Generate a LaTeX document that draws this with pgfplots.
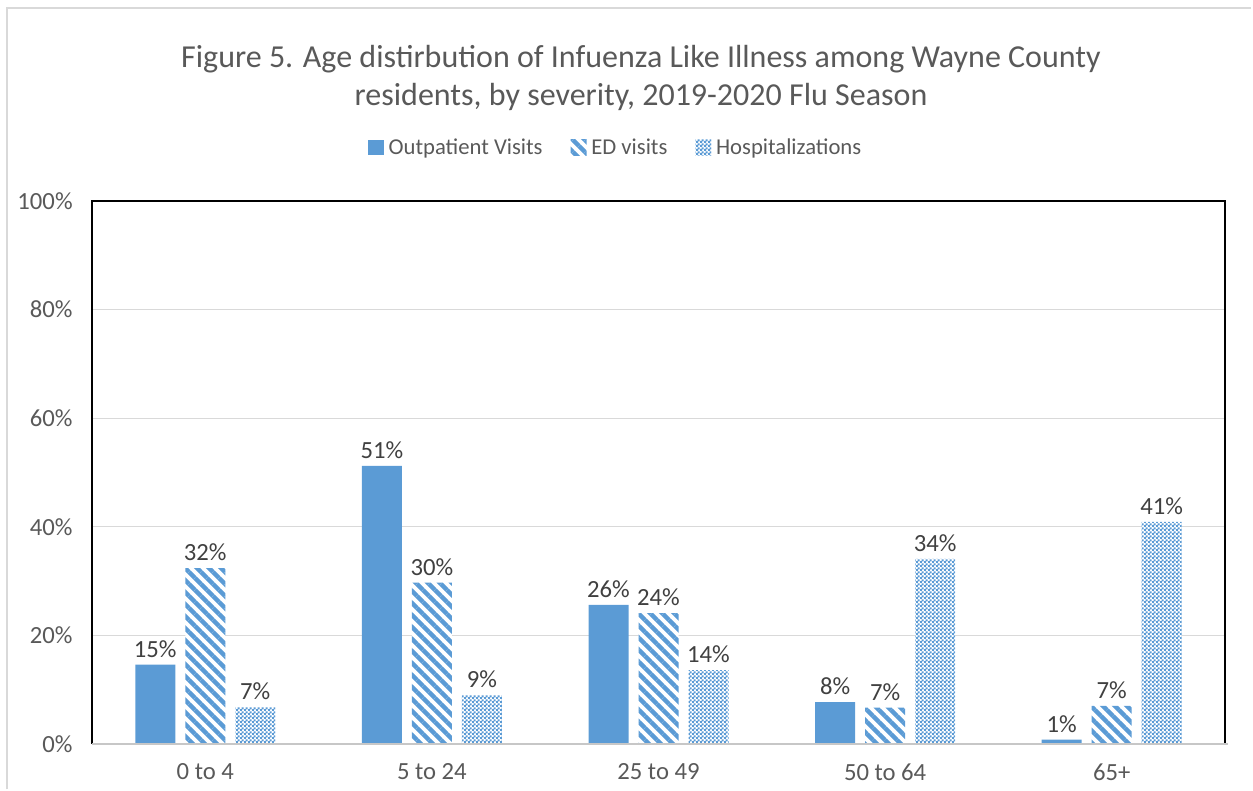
\documentclass[border=0pt]{standalone}
\usepackage{pgfplots}
\pgfplotsset{compat=1.18}
\usepackage{fontspec}
\setmainfont{Carlito}
\usetikzlibrary{patterns.meta}
\definecolor{barblue}{HTML}{5B9BD5}
\definecolor{txtgray}{HTML}{595959}
\definecolor{lblgray}{HTML}{404040}
\definecolor{gridgray}{HTML}{D9D9D9}
\tikzdeclarepattern{
  name=mychecker,
  type=uncolored,
  bounding box={(0pt,0pt) and (3pt,3pt)},
  tile size={(3pt,3pt)},
  code={
    \fill (0pt,0pt) rectangle (1.8pt,1.8pt);
    \fill (1.5pt,1.5pt) rectangle (3.3pt,3.3pt);
  }
}
\begin{document}
\begin{tikzpicture}
\useasboundingbox (-69pt,-35.25pt) rectangle (870.75pt,558pt);
\draw[gridgray, line width=1.2pt] (-63.75pt,-34pt) -- (-63.75pt,552pt) -- (869pt,552pt);
\begin{axis}[
  at={(0pt,0pt)}, anchor=south west,
  scale only axis,
  width=849.75pt, height=407.25pt,
  ybar=7.5pt, bar width=30pt,
  xmin=-0.5, xmax=4.5,
  ymin=0, ymax=100,
  xtick=data,
  xticklabels={0 to 4, 5 to 24, 25 to 49, 50 to 64, 65+},
  ytick={0,20,40,60,80,100},
  yticklabel={\pgfmathprintnumber{\tick}\%},
  /pgf/number format/assume math mode=true,
  major tick length=0pt,
  axis line style={draw=none},
  ymajorgrids, grid style={gridgray, line width=0.9pt},
  tick label style={font=\fontsize{18.5}{22}\selectfont, text=txtgray},
  yticklabel style={xshift=-11pt},
  xticklabel style={yshift=-11pt},
  nodes near coords={\pgfmathprintnumber[fixed,precision=0]{\pgfplotspointmeta}\%},
  every node near coord/.append style={font=\fontsize{18.5}{22}\selectfont, text=lblgray, yshift=2pt},
  legend columns=3,
  legend style={draw=none, fill=none, at={(0.4625,1.0976)}, anchor=center,
    font=\fontsize{17}{20}\selectfont, text=txtgray,
    /tikz/every odd column/.append style={column sep=1.5pt},
    /tikz/every even column/.append style={column sep=19pt}},
  legend image code/.code={\fill[#1] (0pt,-5.5pt) rectangle (12pt,6pt);},
  clip=false,
]
\addplot[fill=barblue, draw=none] coordinates {(0,14.6) (1,51.2) (2,25.6) (3,7.7) (4,0.8)};
\addplot[fill=white, draw=none, postaction={pattern={Lines[angle=-45,distance=6.364pt,line width=3.2pt]}, pattern color=barblue}] coordinates {(0,32.4) (1,29.7) (2,24.1) (3,6.7) (4,7.0)};
\addplot[fill=white, draw=none, postaction={pattern=mychecker, pattern color=barblue}] coordinates {(0,6.8) (1,9.0) (2,13.6) (3,34.1) (4,40.9)};
\legend{Outpatient Visits, ED visits, Hospitalizations}
\draw[black, line width=1.3pt] (rel axis cs:0,0) -- (rel axis cs:0,1) -- (rel axis cs:1,1) -- (rel axis cs:1,0);
\draw[gridgray!80!gray, line width=1.5pt] (rel axis cs:0,0) -- (rel axis cs:1.003,0);
\end{axis}
\node[font=\fontsize{24}{28.5}\selectfont, text=txtgray, align=center] at (411.75pt,499.5pt) {Figure 5. Age distirbution of Infuenza Like Illness among Wayne County\\residents, by severity, 2019-2020 Flu Season};
\end{tikzpicture}
\end{document}
